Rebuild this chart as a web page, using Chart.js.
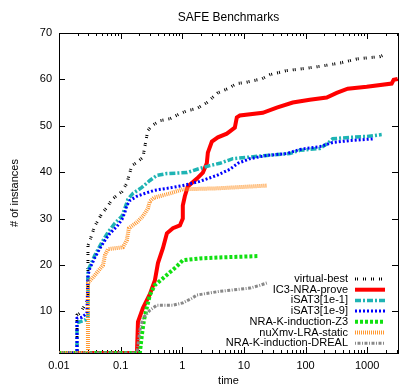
<!DOCTYPE html>
<html>
<head>
<meta charset="utf-8">
<script src="https://cdn.jsdelivr.net/npm/chart.js@4.4.1/dist/chart.umd.min.js"></script>
<style>
  html, body { margin: 0; padding: 0; background: #fff; }
</style>
</head>
<body>
<canvas id="myChart" width="415" height="388"></canvas>
<script>
// series names, in the order of the key
var names = ['virtual-best', 'IC3-NRA-prove', 'iSAT3[1e-1]', 'iSAT3[1e-9]',
             'NRA-K-induction-Z3', 'nuXmv-LRA-static', 'NRA-K-induction-DREAL'];

// time (s) and number of instances solved
var vbTime = [0.01, 0.0196, 0.0196, 0.0219, 0.0295, 0.0295, 0.0318, 0.0383, 0.0413, 0.0498, 0.060, 0.0723, 0.0871, 0.105, 0.126, 0.152, 0.184, 0.230, 0.257, 0.277, 0.321, 0.433, 0.629, 0.914, 1.23, 1.73, 2.50, 3.78, 5.48, 7.67, 10.3, 13.9, 19.5, 26.3, 49.5, 90, 190, 386, 676, 1097, 1594, 2070];
var vbCount = [1, 1, 9.2, 9.6, 12.4, 24.2, 25.3, 28.5, 29.2, 31.1, 32.4, 34.1, 35.0, 35.8, 37.6, 41.4, 42.1, 43.2, 46.8, 49.0, 50.0, 51.1, 51.5, 52.6, 53.3, 53.7, 55.0, 57.1, 58.0, 59.1, 59.3, 59.7, 60.1, 61.0, 61.9, 62.3, 62.9, 63.6, 64.4, 64.7, 64.9, 65.5];

var icTime = [0.01, 0.184, 0.191, 0.230, 0.298, 0.360, 0.403, 0.485, 0.563, 0.704, 0.914, 1.02, 1.02, 1.10, 1.23, 1.73, 2.16, 2.50, 2.60, 3.02, 3.78, 5.28, 7.12, 7.67, 8.59, 20.2, 34.1, 62, 117, 220, 320, 483, 982, 2495, 2690, 3120];
var icCount = [1, 1, 7.7, 10.7, 13.7, 16.7, 20.4, 23.6, 26.8, 27.9, 28.5, 30.0, 32.8, 34.8, 36.9, 38.6, 39.9, 41.9, 44.2, 46.6, 47.5, 48.3, 49.6, 51.8, 52.2, 52.8, 53.9, 55.0, 55.6, 56.1, 57.1, 58.0, 58.4, 59.1, 59.9, 60.1];

var is1Time = [0.01, 0.0196, 0.0196, 0.0264, 0.0295, 0.0295, 0.0383, 0.0498, 0.0622, 0.0809, 0.105, 0.117, 0.131, 0.158, 0.221, 0.298, 0.387, 0.563, 1.19, 1.93, 2.80, 4.06, 6.61, 23.5, 55.4, 80.5, 170, 229, 276, 520, 982, 1718];
var is1Count = [1, 1, 7.5, 8.1, 9.0, 18.8, 22.1, 24.9, 27.0, 29.0, 30.5, 32.2, 34.1, 35.4, 36.7, 38.2, 39.3, 39.7, 39.9, 40.8, 41.4, 41.9, 42.9, 43.6, 44.0, 44.7, 45.1, 46.2, 47.2, 47.5, 47.7, 48.1];

var is9Time = [0.01, 0.0196, 0.0196, 0.0236, 0.0284, 0.0295, 0.0318, 0.0383, 0.0462, 0.0557, 0.0671, 0.0871, 0.105, 0.117, 0.126, 0.142, 0.184, 0.246, 0.358, 0.563, 1.02, 1.92, 3.64, 5.9, 7.96, 12.5, 23.5, 49.5, 81, 170, 276, 520, 1322];
var is9Count = [1, 1, 8.5, 8.7, 9.6, 17.8, 19.3, 21.6, 23.6, 25.3, 26.8, 28.3, 29.8, 31.3, 32.8, 33.9, 34.8, 35.4, 36.1, 36.5, 37.1, 38.0, 39.3, 40.6, 41.9, 42.9, 43.6, 44.0, 44.9, 45.5, 46.4, 46.8, 47.2];

var z3Time = [0.01, 0.205, 0.221, 0.239, 0.267, 0.298, 0.358, 0.467, 0.629, 0.817, 1.02, 1.92, 4.05, 16.8];
var z3Count = [1, 1, 4.9, 8.1, 10.9, 13.5, 15.6, 16.9, 18.4, 19.7, 21.0, 21.4, 21.6, 21.9];

var nuTime = [0.01, 0.0295, 0.0295, 0.0356, 0.0429, 0.0517, 0.0557, 0.0622, 0.109, 0.126, 0.136, 0.184, 0.230, 0.277, 0.298, 0.347, 0.485, 0.629, 1.02, 3.64, 23.5];
var nuCount = [1, 1, 16.1, 17.3, 18.6, 19.9, 22.1, 23.4, 23.8, 25.3, 27.9, 29.2, 30.5, 32.2, 33.7, 34.5, 35.0, 35.4, 36.3, 36.5, 37.1];

var drTime = [0.01, 0.184, 0.205, 0.230, 0.298, 0.387, 0.704, 1.02, 1.43, 1.73, 4.05, 12.5, 18.2, 23.5];
var drCount = [1, 1, 5.9, 8.5, 10.2, 11.3, 11.3, 11.8, 12.8, 13.5, 14.3, 15.0, 15.6, 16.1];

var xTicks = [0.01, 0.1, 1, 10, 100, 1000];
var xTickLabels = ['0.01', '0.1', '1', '10', '100', '1000'];
var yTicks = [10, 20, 30, 40, 50, 60, 70];

var times = [vbTime, icTime, is1Time, is9Time, z3Time, nuTime, drTime];
var counts = [vbCount, icCount, is1Count, is9Count, z3Count, nuCount, drCount];

var colors = ['#000000', '#ff0000', '#1fb4b4', '#0000ff', '#11e011', '#ff9933', '#888888'];
var widths = [3, 4, 3.5, 3, 4, 4, 3];
var dashes = [[1, 1, 1, 5], [], [6, 2, 2, 2], [2, 2], [3, 2], [1, 1], [1, 1.5, 3, 1.5]];

var font = { family: 'Liberation Sans', size: 11 };

var datasets = names.map(function (name, i) {
    return {
        label: name,
        data: times[i].map(function (t, j) { return { x: t, y: counts[i][j] }; }),
        borderColor: colors[i],
        backgroundColor: colors[i],
        borderWidth: widths[i],
        borderDash: dashes[i],
        showLine: true,
        pointRadius: 0,
        fill: false,
        tension: 0,
        order: names.length - i
    };
});

// box round the plot with gnuplot-style inward ticks
var framePlugin = {
    id: 'frame',
    beforeDatasetsDraw: function (chart) {
        var ctx = chart.ctx, a = chart.chartArea;
        var xs = chart.scales.x, ys = chart.scales.y;
        ctx.save();
        ctx.strokeStyle = '#000';
        ctx.lineWidth = 1;
        ctx.strokeRect(a.left + 0.5, a.top + 0.5, a.right - a.left, a.bottom - a.top);
        ctx.beginPath();
        for (var d = -2; d <= 3; d++) {
            for (var m = 1; m <= 9; m++) {
                var v = m * Math.pow(10, d);
                if (v > xs.max) continue;
                var px = Math.round(xs.getPixelForValue(v)) + 0.5;
                var len = m === 1 ? 6 : 3;
                ctx.moveTo(px, a.bottom);
                ctx.lineTo(px, a.bottom - len);
                ctx.moveTo(px, a.top);
                ctx.lineTo(px, a.top + len);
            }
        }
        yTicks.forEach(function (v) {
            var py = Math.round(ys.getPixelForValue(v)) + 0.5;
            ctx.moveTo(a.left, py);
            ctx.lineTo(a.left + 6, py);
            ctx.moveTo(a.right, py);
            ctx.lineTo(a.right - 6, py);
        });
        ctx.stroke();
        ctx.restore();
    }
};

// key in the lower right corner: text right aligned, line sample after it
var keyPlugin = {
    id: 'key',
    afterDatasetsDraw: function (chart) {
        var ctx = chart.ctx, a = chart.chartArea;
        ctx.save();
        ctx.font = '11px "Liberation Sans"';
        ctx.textAlign = 'right';
        ctx.textBaseline = 'middle';
        chart.data.datasets.forEach(function (ds, i) {
            var y = a.bottom - 74 + i * 10.7;
            ctx.fillStyle = '#000';
            ctx.fillText(ds.label, a.right - 50, y);
            ctx.strokeStyle = ds.borderColor;
            ctx.lineWidth = ds.borderWidth;
            ctx.setLineDash(ds.borderDash);
            ctx.beginPath();
            ctx.moveTo(a.right - 43, y);
            ctx.lineTo(a.right - 13, y);
            ctx.stroke();
        });
        ctx.restore();
    }
};

var ctx = document.getElementById('myChart').getContext('2d');
var myChart = new Chart(ctx, {
    type: 'scatter',
    data: { datasets: datasets },
    plugins: [framePlugin, keyPlugin],
    options: {
        responsive: false,
        animation: false,
        devicePixelRatio: 1,
        layout: { padding: { left: 0, right: 17, top: 0, bottom: 0 } },
        plugins: {
            legend: { display: false },
            tooltip: { enabled: false },
            title: {
                display: true,
                text: 'SAFE Benchmarks',
                fullSize: false,
                color: '#000',
                font: { family: 'Liberation Sans', size: 12, weight: 'normal' },
                padding: { top: 10, bottom: 8.6 }
            }
        },
        scales: {
            x: {
                type: 'logarithmic',
                min: 0.01,
                max: 3160,
                afterBuildTicks: function (s) { s.ticks = xTicks.map(function (v) { return { value: v }; }); },
                afterFit: function (s) { s.height = 35; },
                grid: { display: false, drawTicks: false },
                border: { display: false },
                ticks: {
                    autoSkip: false,
                    maxRotation: 0,
                    padding: 6,
                    color: '#000',
                    font: font,
                    callback: function (v, i) { return xTickLabels[i]; }
                },
                title: { display: true, text: 'time', color: '#000', font: font, padding: { top: 1, bottom: 0 } }
            },
            y: {
                min: 1,
                max: 70,
                afterBuildTicks: function (s) { s.ticks = yTicks.map(function (v) { return { value: v }; }); },
                afterFit: function (s) { s.width = 59; },
                grid: { display: false, drawTicks: false },
                border: { display: false },
                ticks: { padding: 7, color: '#000', font: font },
                title: { display: true, text: '# of instances', color: '#000', font: font, padding: { top: 8, bottom: 0 } }
            }
        }
    }
});
</script>
</body>
</html>
